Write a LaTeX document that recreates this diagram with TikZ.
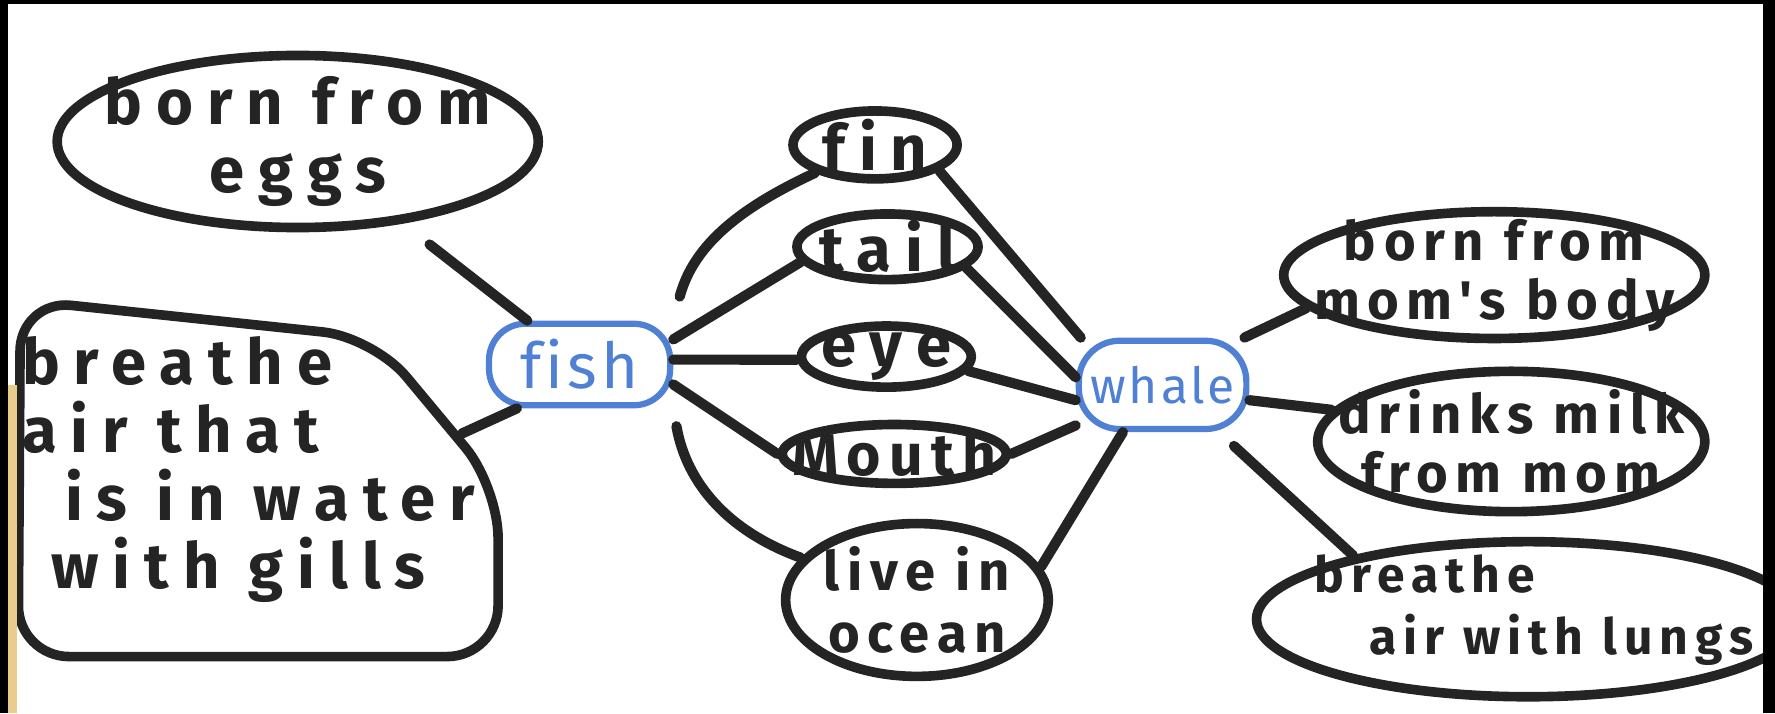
\documentclass[tikz,border=0pt]{standalone}
\usepackage{fontspec}
\setmainfont{Fira Sans}
\newfontfamily\hand{Fira Sans}[LetterSpace=14, Ligatures=NoCommon]
\newfontfamily\bighand{Fira Sans}[LetterSpace=22, Ligatures=NoCommon]
\newfontfamily\bluehand{Fira Sans}[LetterSpace=6, Ligatures=NoCommon]
\usetikzlibrary{shapes.geometric}
\definecolor{ink}{HTML}{242424}
\definecolor{blueink}{HTML}{4F80D4}
\definecolor{tape}{HTML}{E9CD8E}
\begin{document}
\begin{tikzpicture}[x=1pt,y=1pt,
  bub/.style={ellipse, draw=ink, line width=8.5pt, inner sep=0pt},
  bluebox/.style={rectangle, rounded corners=32pt, draw=blueink, line width=5.5pt, inner sep=0pt},
  txt/.style={font=\hand\bfseries\fontsize{48}{54}\selectfont, text=ink, align=center},
  bigtxt/.style={font=\bighand\bfseries\fontsize{56}{60}\selectfont, text=ink, align=center},
  bluetxt/.style={font=\bluehand\fontsize{56}{60}\selectfont, text=blueink},
  link/.style={draw=ink, line width=9pt, line cap=round}]
\useasboundingbox (0,0) rectangle (1568,630);
\fill[white] (0,0) rectangle (1568,630);

% left side
\node[bub, minimum width=425pt, minimum height=152pt,
  label={[bigtxt]center:{born from\\eggs}}] (eggs) at (263,505) {};
\draw[ink, line width=8.5pt, rounded corners=45pt]
  (18,365) -- (330,332) -- (440,200) -- (440,50) -- (16,50) -- cycle;
\node[bigtxt, align=left, anchor=west] (gills) at (16,215)
  {breathe\\air that\\\hspace{38pt}is in water\\\hspace{26pt}with gills};
\coordinate (gillsedge) at (408,247);

% centres
\node[bluebox, minimum width=160pt, minimum height=72pt,
  label={[bluetxt]center:fish}] (fish) at (512,308) {};
\node[bluebox, rounded corners=36pt, minimum width=148pt, minimum height=78pt,
  label={[bluetxt, font=\bluehand\fontsize{44}{48}\selectfont]center:whale}] (whale) at (1027,290) {};

% shared
\node[bub, minimum width=145pt, minimum height=60pt, label={[bigtxt]center:fin}] (fin) at (773,502) {};
\node[bub, minimum width=160pt, minimum height=58pt, label={[bigtxt]center:tail}] (tail) at (784,412) {};
\node[bub, minimum width=150pt, minimum height=54pt, label={[bigtxt]center:eye}] (eye) at (783,315) {};
\node[bub, minimum width=198pt, minimum height=52pt,
  label={[txt, font=\hand\bfseries\fontsize{52}{56}\selectfont]center:Mouth}] (mouth) at (790,229) {};
\node[bub, minimum width=232pt, minimum height=135pt,
  label={[txt]center:{live in\\ocean}}] (ocean) at (810,100) {};

% right side
\node[bub, minimum width=372pt, minimum height=112pt,
  label={[txt, font=\hand\bfseries\fontsize{48}{52}\selectfont]center:{born from\\mom's body}}] (mombody) at (1320,387) {};
\node[bub, minimum width=342pt, minimum height=124pt,
  label={[txt, font=\hand\bfseries\fontsize{48}{52}\selectfont]center:{drinks milk\\from mom}}] (milk) at (1335,240) {};
\node[bub, minimum width=480pt, minimum height=137pt] (lungs) at (1350,83) {};
\node[txt, font=\hand\bfseries\fontsize{44}{54}\selectfont, align=left, anchor=west] (lungstext) at (1158,91)
  {breathe\\\hspace{48pt}air with lungs};

% connectors
\draw[link, shorten <=30pt] (eggs.-38) -- (fish.140);
\draw[link] (gillsedge) -- (fish.215);
\draw[link, shorten <=22pt] (fish.north east) to[out=75, in=205] (fin.205);
\draw[link] (fish.15) -- (tail.190);
\draw[link] (fish.3) -- (eye.182);
\draw[link] (fish.-12) -- (mouth.west);
\draw[link, shorten <=16pt] (fish.south east) to[out=-80, in=160] (ocean.160);
\draw[link] (fin.-22) -- (whale.150);
\draw[link] (tail.-15) -- (whale.175);
\draw[link] (eye.-10) -- (whale.190);
\draw[link] (mouth.east) -- (whale.205);
\draw[link] (ocean.15) -- (whale.230);
\draw[link] (whale.30) -- (mombody.190);
\draw[link] (whale.-10) -- (milk.170);
\draw[link, shorten <=18pt] (whale.-40) -- (lungs.160);

% photo edges
\fill[black] (0,626.5) rectangle (1568,630);
\fill[black] (0,0) rectangle (7,630);
\fill[tape] (7,0) rectangle (15,290);
\fill[black] (1557,0) rectangle (1568,630);
\end{tikzpicture}
\end{document}
